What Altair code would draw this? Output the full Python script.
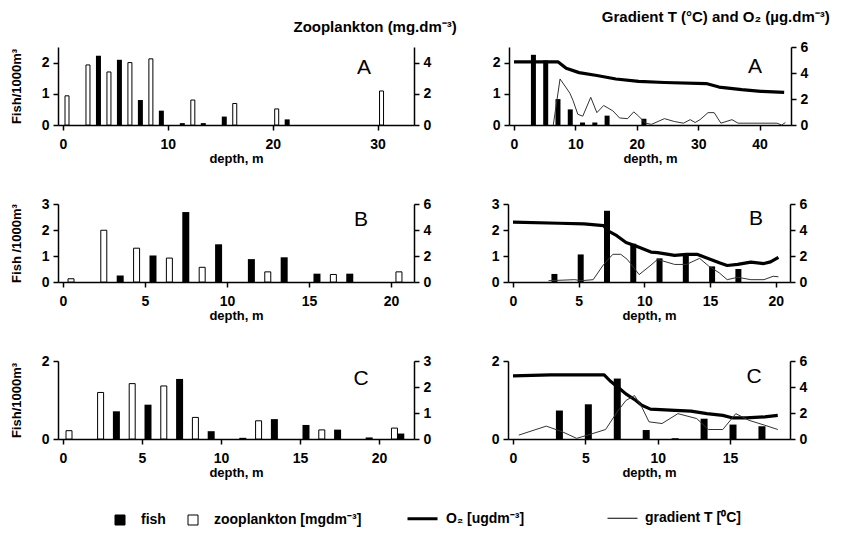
import altair as alt
import pandas as pd

FONT = "Liberation Sans"

# ---------------- Row A ----------------
A_fish_depth = [3, 5, 7, 9, 11, 13, 15, 21]
A_fish_left = [2.22, 2.09, 0.80, 0.46, 0.06, 0.06, 0.27, 0.18]
A_zoo_depth = [0, 2, 4, 6, 8, 12, 16, 20, 30]
A_zoo = [1.87, 3.85, 3.40, 4.00, 4.24, 1.60, 1.38, 1.03, 2.18]

A_fish_right = [2.25, 2.07, 0.83, 0.50, 0.08, 0.08, 0.30, 0.20]
A_o2_depth = [0, 7.2, 8.5, 10.6, 13.5, 16.6, 20.3, 24.5, 31.3, 33.4, 37.1, 40.2, 44.0]
A_o2 = [4.85, 4.85, 4.36, 4.03, 3.81, 3.54, 3.35, 3.27, 3.19, 2.92, 2.72, 2.59, 2.51]
A_grad_depth = [6.4, 7.5, 8.3, 9.1, 9.6, 10.4, 11.2, 12.5, 13.5, 14.6, 16.1, 17.2, 18.5,
                19.5, 20.3, 21.4, 22.4, 24.5, 26.1, 27.6, 28.7, 29.5, 30.3, 31.6, 32.6,
                33.7, 35.5, 36.5, 42.8, 43.6, 44.2]
A_grad = [0, 3.54, 3.0, 2.45, 1.9, 0.82, 0.68, 2.13, 0.95, 1.5, 1.09, 0.54, 0.49,
          1.01, 0.68, 0.14, 0.05, 0.49, 0.27, 0.14, 0.41, 0.19, 0.41, 0.95, 0.95,
          0.14, 0.41, 0.14, 0.14, 0, 0.19]

# ---------------- Row B ----------------
B_fish_depth = [3, 5, 7, 9, 11, 13, 15, 17]
B_fish_left = [0.25, 1.02, 2.69, 1.45, 0.88, 0.95, 0.32, 0.32]
B_zoo_depth = [0, 2, 4, 6, 8, 12, 16, 20]
B_zoo = [0.25, 3.98, 2.60, 1.84, 1.13, 0.78, 0.58, 0.78]

B_fish_right = [0.31, 1.06, 2.74, 1.47, 0.91, 1.08, 0.60, 0.50]
B_o2_depth = [0, 3.5, 5.4, 6.9, 7.2, 7.9, 8.6, 9.3, 10.5, 11.0, 12.3, 13.2, 14.0, 14.7,
              15.7, 16.3, 17.1, 18.1, 19.1, 19.6, 20.2]
B_o2 = [4.60, 4.52, 4.47, 4.34, 3.95, 3.56, 3.04, 2.78, 2.30, 2.26, 2.05, 2.13, 2.13, 1.87,
        1.48, 1.27, 1.35, 1.53, 1.42, 1.55, 1.90]
B_grad_depth = [2.7, 4.7, 5.2, 6.1, 6.9, 7.6, 8.2, 8.7, 9.3, 9.6, 10.5, 11.0, 12.3, 13.2,
                14.2, 14.9, 15.7, 16.3, 17.1, 18.1, 19.1, 19.8, 20.2]
B_grad = [0.10, 0.18, 0.10, 0.18, 1.35, 2.13, 2.13, 1.74, 0.96, 0.57, 1.30, 1.74, 1.35, 1.35,
          1.82, 1.22, 0.70, 0.18, 0.36, 0.18, 0.18, 0.44, 0.40]

# ---------------- Row C ----------------
C_fish_depth = [3, 5, 7, 9, 11, 13, 15, 17, 19, 21]
C_fish_left = [0.71, 0.88, 1.54, 0.20, 0.03, 0.51, 0.36, 0.24, 0.04, 0.14]
C_zoo_depth = [0, 2, 4, 6, 8, 12, 16, 20.6]
C_zoo = [0.32, 1.79, 2.13, 2.04, 0.83, 0.70, 0.35, 0.42]

C_fishR_depth = [3, 5, 7, 9, 11, 13, 15, 17]
C_fish_right = [0.73, 0.89, 1.55, 0.23, 0.02, 0.52, 0.37, 0.33]
C_o2_depth = [0, 2.6, 6.3, 6.7, 7.4, 7.8, 8.5, 8.9, 9.5, 11.2, 12.3, 13.4, 14.5, 15.2,
              16.1, 17.4, 18.3]
C_o2 = [4.86, 4.94, 4.94, 4.48, 3.85, 3.47, 2.96, 2.60, 2.30, 2.20, 2.15, 1.95, 1.82, 1.62,
        1.62, 1.70, 1.82]
C_grad_depth = [0.4, 2.3, 3.4, 4.4, 5.4, 6.4, 7.2, 7.8, 8.4, 8.9, 9.4, 10.3, 11.4, 12.7,
                13.5, 14.5, 15.4, 16.3, 17.4, 18.3]
C_grad = [0.30, 0.99, 0.56, 0.05, 0.38, 0.73, 2.08, 2.96, 3.34, 2.46, 1.32, 1.19, 1.95, 1.57,
          0.73, 0.73, 1.95, 1.44, 1.06, 0.73]

bar_series = ["fish", "zooplankton [mgdm⁻³]"]
line_series = ["O₂ [ugdm⁻³]", "gradient T [⁰C]"]

LW = 356
RW = 282
H = 78


def xaxis(ticks):
    return alt.Axis(values=ticks, title="depth, m", format="d", tickSize=5,
                    labelPadding=7, titlePadding=1)


def yaxis(orient, ticks, title=None, tp=18):
    if title:
        return alt.Axis(orient=orient, values=ticks, title=title, format="d",
                        titlePadding=tp, labelPadding=4, tickSize=5)
    return alt.Axis(orient=orient, values=ticks, title=None, format="d",
                    labelPadding=4, tickSize=5)


def letter_layer(letter, px, py):
    return alt.Chart(pd.DataFrame({"t": [letter]})).mark_text(
        font=FONT, fontSize=21, align="center", baseline="middle",
        color="black").encode(text="t:N", x=alt.value(px), y=alt.value(py))


def left_panel(fd, fv, zd, zv, xdom, xticks, ydom, yticks, y2dom, y2ticks,
               ytitle, letter, fw, zw, off, lpos):
    x = alt.X("depth:Q", scale=alt.Scale(domain=xdom, nice=False, zero=False),
              axis=xaxis(xticks))
    fish = alt.Chart(pd.DataFrame({"depth": fd, "fish": fv})).mark_bar(
        color="black", width=fw, xOffset=off).encode(
        x=x,
        y=alt.Y("fish:Q", scale=alt.Scale(domain=ydom, nice=False),
                axis=yaxis("left", yticks, ytitle)))
    zoo = alt.Chart(pd.DataFrame({"depth": zd, "zoo": zv})).mark_bar(
        fill="white", stroke="black", strokeWidth=1, width=zw, xOffset=off).encode(
        x=x,
        y=alt.Y("zoo:Q", scale=alt.Scale(domain=y2dom, nice=False),
                axis=yaxis("right", y2ticks)))
    return alt.layer(fish, zoo, letter_layer(letter, *lpos)).resolve_scale(
        y="independent").properties(width=LW, height=H)


def right_panel(fd, fv, od, ov, gd, gv, xdom, xticks, ydom, yticks, letter, fw, off, lpos):
    x = alt.X("depth:Q", scale=alt.Scale(domain=xdom, nice=False, zero=False),
              axis=xaxis(xticks))
    fish = alt.Chart(pd.DataFrame({"depth": fd, "fish": fv})).mark_bar(
        color="black", width=fw, xOffset=off).encode(
        x=x,
        y=alt.Y("fish:Q", scale=alt.Scale(domain=ydom, nice=False),
                axis=yaxis("left", yticks)))
    raxis = yaxis("right", [0, 2, 4, 6])
    o2 = alt.Chart(pd.DataFrame({"depth": od, "v": ov})).mark_line(
        color="black", strokeWidth=3.2, strokeJoin="round").encode(
        x=x, y=alt.Y("v:Q", scale=alt.Scale(domain=[0, 6], nice=False), axis=raxis))
    grad = alt.Chart(pd.DataFrame({"depth": gd, "v": gv})).mark_line(
        color="#333333", strokeWidth=1).encode(
        x=x, y=alt.Y("v:Q", scale=alt.Scale(domain=[0, 6], nice=False), axis=raxis))
    lines = alt.layer(o2, grad)
    return alt.layer(fish, lines, letter_layer(letter, *lpos)).resolve_scale(
        y="independent").properties(width=RW, height=H)


# legend carriers: invisible points, visible legends
bar_legend = alt.Chart(pd.DataFrame({"sq": bar_series})).mark_point(
    opacity=0, filled=True).encode(
    fill=alt.Fill("sq:N", scale=alt.Scale(domain=bar_series, range=["black", "white"]),
                  legend=alt.Legend(title=None, orient="none", direction="horizontal",
                                    legendX=55, legendY=466, columnPadding=20,
                                    symbolType="square", symbolSize=100,
                                    symbolStrokeColor="black", symbolStrokeWidth=1,
                                    symbolOpacity=1,
                                    labelFont=FONT, labelFontSize=14,
                                    labelFontWeight="bold", labelColor="black",
                                    labelOffset=14)))
line_legend = alt.Chart(pd.DataFrame({"ln": line_series})).mark_point(
    opacity=0).encode(
    strokeWidth=alt.StrokeWidth(
        "ln:N", scale=alt.Scale(domain=line_series, range=[3, 1]),
        legend=alt.Legend(title=None, orient="none", direction="horizontal",
                          legendX=353, legendY=460, columnPadding=80,
                          symbolType="M-1.5,0H1.5", symbolSize=400,
                          symbolStrokeColor="black", symbolOpacity=1,
                          labelFont=FONT, labelFontSize=14,
                          labelFontWeight="bold", labelColor="black",
                          labelOffset=12)))

pA_l = left_panel(A_fish_depth, A_fish_left, A_zoo_depth, A_zoo, [0, 33], [0, 10, 20, 30],
                  [0, 2.5], [0, 1, 2], [0, 5], [0, 2, 4], "Fish/1000m³", "A", 5, 4, 4,
                  (306, 21)).properties(
    title=alt.TitleParams("Zooplankton (mg.dm⁻³)", anchor="end", dx=26, offset=12,
                          font=FONT, fontSize=15, fontWeight="bold", color="black"))
pA_r = right_panel(A_fish_depth, A_fish_right, A_o2_depth, A_o2, A_grad_depth, A_grad,
                   [0, 44.3], [0, 10, 20, 30, 40], [0, 2.5], [0, 1, 2], "A", 5, 1,
                   (246, 20)).properties(
    title=alt.TitleParams("Gradient T (°C) and  O₂ (µg.dm⁻³)", anchor="end", dx=22,
                          offset=15, font=FONT, fontSize=15, fontWeight="bold",
                          color="black"))

pB_l = left_panel(B_fish_depth, B_fish_left, B_zoo_depth, B_zoo, [0, 21.1],
                  [0, 5, 10, 15, 20], [0, 3], [0, 1, 2, 3], [0, 6], [0, 2, 4, 6],
                  "Fish /1000m³", "B", 7, 6, 8, (303, 16))
pB_r = right_panel(B_fish_depth, B_fish_right, B_o2_depth, B_o2, B_grad_depth, B_grad,
                   [0, 20.7], [0, 5, 10, 15, 20], [0, 3], [0, 1, 2, 3], "B", 6, 2,
                   (248, 15))

pC_l = alt.layer(
    left_panel(C_fish_depth, C_fish_left, C_zoo_depth, C_zoo, [0, 21.9],
               [0, 5, 10, 15, 20], [0, 2], [0, 1, 2], [0, 3], [0, 1, 2, 3],
               "Fish/1000m³", "C", 7, 6, 6, (303, 18)),
    bar_legend, line_legend)
pC_r = right_panel(C_fishR_depth, C_fish_right, C_o2_depth, C_o2, C_grad_depth, C_grad,
                   [0, 18.8], [0, 5, 10, 15], [0, 2], [0, 1, 2], "C", 7, 3, (246, 16))

rowA = alt.hconcat(pA_l, pA_r, spacing=35)
rowB = alt.hconcat(pB_l, pB_r, spacing=60)
rowC = alt.hconcat(pC_l, pC_r, spacing=60)

chart = alt.vconcat(rowA, rowB, rowC, spacing=32).properties(
    background="white", padding=2).configure_view(
    strokeWidth=0).configure_axis(
    grid=False, domainColor="black", tickColor="black", labelColor="black",
    titleColor="black", labelFont=FONT, titleFont=FONT, labelFontSize=14,
    labelFontWeight="bold", titleFontSize=13, titleFontWeight="bold",
    domainWidth=1.5, tickWidth=1.5)

chart.save("out.html", embed_options={"renderer": "svg", "actions": False})
